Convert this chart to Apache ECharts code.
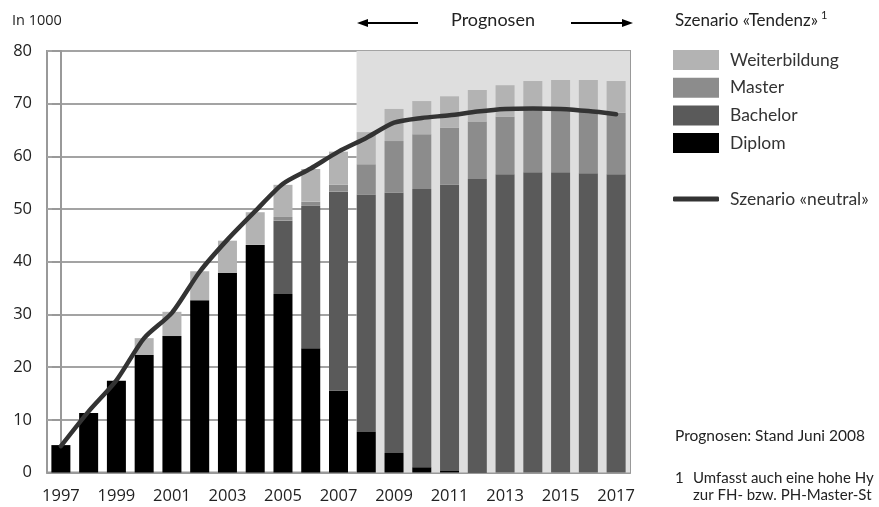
<!DOCTYPE html>
<html>
<head>
<meta charset="utf-8">
<script src="https://cdn.jsdelivr.net/npm/echarts@6/dist/echarts.min.js"></script>
<style>html,body{margin:0;padding:0;background:#fff;}#c{width:879px;height:507px;}</style>
</head>
<body>
<div id="c"></div>
<script>
const years = ['1997','1998','1999','2000','2001','2002','2003','2004','2005','2006','2007','2008','2009','2010','2011','2012','2013','2014','2015','2016','2017'];
const diplom = [5.2, 11.3, 17.4, 22.3, 25.9, 32.7, 37.9, 43.2, 33.9, 23.6, 15.5, 7.7, 3.7, 1.0, 0.3, 0.1, 0, 0, 0, 0, 0];
const bachelor = [0, 0, 0, 0, 0, 0, 0, 0, 13.9, 27.0, 37.8, 45.0, 49.4, 52.8, 54.3, 55.6, 56.6, 57.0, 57.0, 56.8, 56.6];
const master = [0, 0, 0, 0, 0, 0, 0, 0, 0.7, 0.8, 1.3, 5.8, 9.8, 10.4, 10.8, 10.9, 10.9, 11.8, 11.7, 11.6, 11.7];
const weiterbildung = [0, 0, 0, 3.2, 4.6, 5.5, 6.1, 6.2, 6.1, 6.2, 6.3, 6.1, 6.1, 6.3, 6.0, 6.0, 6.0, 5.5, 5.8, 6.1, 6.0];
const neutral = [5.0, 11.6, 17.5, 25.5, 30.3, 38.1, 44.2, 49.6, 54.8, 57.7, 60.9, 63.5, 66.4, 67.3, 67.8, 68.5, 69.0, 69.1, 69.0, 68.6, 68.0];
const yTicks = {min: 0, max: 80, interval: 10};
const forecastStart = 10.65; // left edge of the 2008 bar, in category index units

const FONT = 'Open Sans';
const TFONT = 'Lato';
const chart = echarts.init(document.getElementById('c'));
const barBase = {type: 'bar', stack: 'a', barWidth: 19, xAxisIndex: 0, yAxisIndex: 0};
chart.setOption({
  animation: false,
  textStyle: {fontFamily: FONT},
  grid: {left: 47, right: 249, top: 51, bottom: 34.5, show: true, borderColor: '#999', borderWidth: 2, containLabel: false},
  xAxis: [{
    type: 'category', data: years,
    axisLine: {lineStyle: {color: '#999', width: 2}},
    axisTick: {show: false},
    axisLabel: {interval: 1, color: '#222', fontSize: 16.5, margin: 15, fontFamily: FONT}
  }, {
    type: 'value', min: -0.5, max: years.length - 0.5, show: false
  }],
  yAxis: [{
    type: 'value', min: yTicks.min, max: yTicks.max, interval: yTicks.interval,
    axisLine: {show: true, lineStyle: {color: '#999', width: 2}},
    axisTick: {show: true, length: 9, lineStyle: {color: '#999', width: 2}},
    axisLabel: {color: '#222', fontSize: 16.5, margin: 15, fontFamily: FONT},
    splitLine: {lineStyle: {color: '#a3a3a3', width: 2}}
  }],
  legend: [{
    orient: 'vertical', left: 673, top: 50, padding: 0, itemWidth: 46, itemHeight: 20, itemGap: 7.7,
    icon: 'rect',
    data: ['Weiterbildung', 'Master', 'Bachelor', 'Diplom'],
    textStyle: {fontSize: 17.5, color: '#333', fontFamily: TFONT, padding: [0, 0, 0, 6]},
    selectedMode: false
  }, {
    orient: 'vertical', left: 673, top: 190, padding: 0, itemWidth: 46, itemHeight: 5,
    data: [{name: 'Szenario «neutral»', icon: 'roundRect'}],
    textStyle: {fontSize: 17.5, color: '#333', fontFamily: TFONT, padding: [0, 0, 0, 6]},
    selectedMode: false
  }],
  series: [
    {
      type: 'line', xAxisIndex: 1, yAxisIndex: 0, data: [], z: -1, silent: true,
      markArea: {silent: true, itemStyle: {color: '#dedede'},
        data: [[{xAxis: forecastStart, yAxis: yTicks.max}, {xAxis: years.length - 0.5, yAxis: yTicks.min}]]}
    },
    Object.assign({}, barBase, {name: 'Diplom', data: diplom, itemStyle: {color: '#000000'}}),
    Object.assign({}, barBase, {name: 'Bachelor', data: bachelor, itemStyle: {color: '#5a5a5a'}}),
    Object.assign({}, barBase, {name: 'Master', data: master, itemStyle: {color: '#8c8c8c'}}),
    Object.assign({}, barBase, {name: 'Weiterbildung', data: weiterbildung, itemStyle: {color: '#b3b3b3'}}),
    {
      name: 'Szenario «neutral»', type: 'line', data: neutral, xAxisIndex: 0, yAxisIndex: 0,
      symbol: 'none', smooth: 0.25, z: 5,
      lineStyle: {color: '#333333', width: 4.5, cap: 'round', join: 'round'},
      itemStyle: {color: '#333333'}
    }
  ],
  graphic: [
    {type: 'text', left: 12, top: 13, style: {text: 'In 1000', fontSize: 14.5, fill: '#222', fontFamily: FONT}},
    {type: 'text', left: 451, top: 11, style: {text: 'Prognosen', fontSize: 18, fill: '#222', fontFamily: TFONT}},
    {type: 'line', shape: {x1: 366, y1: 23, x2: 418, y2: 23}, style: {stroke: '#000', lineWidth: 2}},
    {type: 'polygon', shape: {points: [[357, 23], [368, 19], [368, 27]]}, style: {fill: '#000'}},
    {type: 'line', shape: {x1: 571, y1: 23, x2: 623, y2: 23}, style: {stroke: '#000', lineWidth: 2}},
    {type: 'polygon', shape: {points: [[633, 23], [622, 19], [622, 27]]}, style: {fill: '#000'}},
    {type: 'text', left: 675, top: 12, style: {text: 'Szenario «Tendenz»', fontSize: 17, fill: '#222', fontFamily: TFONT}},
    {type: 'text', left: 821, top: 10, style: {text: '1', fontSize: 11, fill: '#222', fontFamily: TFONT}},
    {type: 'text', left: 675, top: 428, style: {text: 'Prognosen: Stand Juni 2008', fontSize: 15.5, fill: '#222', fontFamily: TFONT}},
    {type: 'text', left: 675, top: 471, style: {text: '1', fontSize: 15, fill: '#222', fontFamily: TFONT}},
    {type: 'text', left: 693, top: 471, style: {text: 'Umfasst auch eine hohe Hy', fontSize: 15, fill: '#222', fontFamily: TFONT}},
    {type: 'text', left: 693, top: 488, style: {text: 'zur FH- bzw. PH-Master-St', fontSize: 15, fill: '#222', fontFamily: TFONT}}
  ]
});
</script>
</body>
</html>
